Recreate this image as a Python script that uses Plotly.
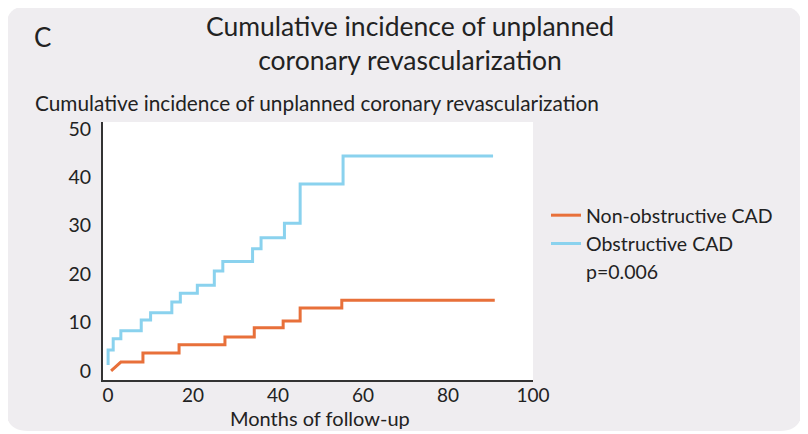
import plotly.graph_objects as go

# event times (months) and cumulative incidence (%)
months_nonobs = [0.7, 3, 8.2, 16.7, 27.5, 34.4, 41.2, 45.2, 55, 91]
incid_nonobs = [0, 1.8, 3.7, 5.4, 7.0, 8.9, 10.3, 13.0, 14.6, 14.6]

months_obs = [0, 0, 1.2, 3, 7.8, 10, 15, 17, 21, 25, 27, 34, 36, 41.5, 45.2, 55.3, 90.6]
incid_obs = [1.2, 4.3, 6.6, 8.3, 10.5, 12, 14.2, 16, 17.7, 20.6, 22.6, 25.2, 27.5, 30.5, 38.6, 44.4, 44.4]

x_ticks = [0, 20, 40, 60, 80, 100]
y_ticks = [0, 10, 20, 30, 40, 50]

ORANGE = '#e8703a'
BLUE = '#8ad2ee'
FONT = 'Lato'


def km_steps(t, v):
    # first segment drawn straight, the rest as horizontal-then-vertical steps
    xs, ys = [t[0], t[1]], [v[0], v[1]]
    for i in range(2, len(t)):
        xs += [t[i], t[i]]
        ys += [v[i - 1], v[i]]
    return xs, ys


fig = go.Figure()
x1, y1 = km_steps(months_nonobs, incid_nonobs)
fig.add_trace(go.Scatter(x=x1, y=y1, mode='lines', name='Non-obstructive CAD',
                         line=dict(color=ORANGE, width=3)))
x2, y2 = km_steps(months_obs, incid_obs)
fig.add_trace(go.Scatter(x=x2, y=y2, mode='lines', name='Obstructive CAD',
                         line=dict(color=BLUE, width=3)))
fig.add_trace(go.Scatter(x=[None], y=[None], mode='lines', name='p=0.006',
                         line=dict(color='rgba(0,0,0,0)', width=0)))

# the page body puts the figure 8px in from the top-left corner
OFF = 8
W, H = 808 - OFF, 434 - OFF
# plot area in page px: x 103..533, y 122..380
L, R, T, B = 103 - OFF, 808 - 533, 122 - OFF, 434 - 380
PW, PH = W - L - R, H - T - B


def px(xp):
    return (xp - OFF - L) / PW


def py(yp):
    return (H - B - (yp - OFF)) / PH


# rounded light card behind everything, then white plot area
x0, x1c, y0, y1c, r = px(6), px(802), py(6), py(431), 22
rx, ry = r / PW, r / PH
card = (f'M {x0 + rx},{y0} L {x1c - rx},{y0} Q {x1c},{y0} {x1c},{y0 - ry} '
        f'L {x1c},{y1c + ry} Q {x1c},{y1c} {x1c - rx},{y1c} '
        f'L {x0 + rx},{y1c} Q {x0},{y1c} {x0},{y1c + ry} '
        f'L {x0},{y0 - ry} Q {x0},{y0} {x0 + rx},{y0} Z')
fig.add_shape(type='path', path=card, xref='paper', yref='paper',
              fillcolor='#efedf0', line=dict(width=0), layer='below')
fig.add_shape(type='rect', x0=0, x1=1, y0=0, y1=1, xref='paper', yref='paper',
              fillcolor='white', line=dict(width=0), layer='below')

fig.add_annotation(text='C', x=px(32), y=py(37), xref='paper', yref='paper',
                   showarrow=False, xanchor='left', yanchor='middle',
                   font=dict(size=26, color='#222'))
fig.add_annotation(text='Cumulative incidence of unplanned<br>coronary revascularization',
                   x=px(410), y=py(43), xref='paper', yref='paper', showarrow=False,
                   xanchor='center', yanchor='middle',
                   font=dict(size=26.5, color='#222'))
fig.add_annotation(text='Cumulative incidence of unplanned coronary revascularization',
                   x=px(33), y=py(102), xref='paper', yref='paper', showarrow=False,
                   xanchor='left', yanchor='middle',
                   font=dict(size=20.8, color='#222'))
fig.add_annotation(text='Months of follow-up', x=px(320), y=py(418),
                   xref='paper', yref='paper', showarrow=False,
                   xanchor='center', yanchor='middle',
                   font=dict(size=20, color='#222'))

fig.update_layout(
    width=W, height=H,
    margin=dict(l=L, r=R, t=T, b=B, autoexpand=False),
    paper_bgcolor='white', plot_bgcolor='white',
    font=dict(family=FONT, color='#222'),
    showlegend=True,
    legend=dict(x=px(546), y=py(196), xanchor='left', yanchor='top',
                bgcolor='rgba(0,0,0,0)', font=dict(size=19.5),
                tracegroupgap=0),
    xaxis=dict(range=[-1.2, 100], tickvals=x_ticks, showgrid=False, zeroline=False,
               showline=True, linecolor='#333', linewidth=2, ticks='',
               tickfont=dict(size=19), ticklabelstandoff=-3, automargin=False),
    yaxis=dict(range=[-1.9, 51.4], tickvals=y_ticks, showgrid=False, zeroline=False,
               showline=True, linecolor='#333', linewidth=2, ticks='',
               tickfont=dict(size=19.5), ticklabelstandoff=6, automargin=False),
)

fig.write_html('out.html')
